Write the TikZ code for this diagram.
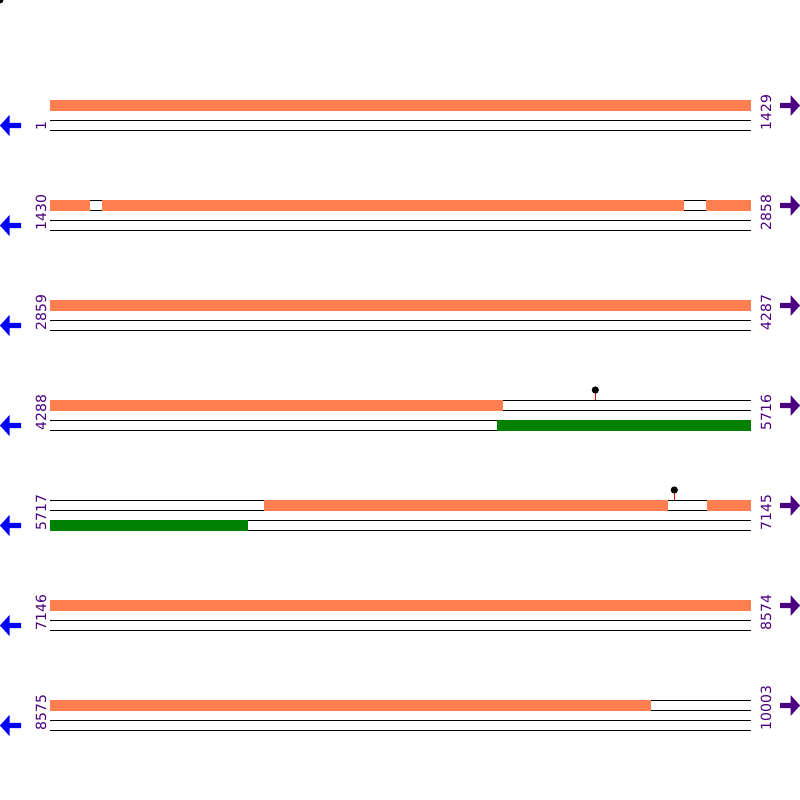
\documentclass[tikz,border=0pt]{standalone}
\usepackage{fontspec}
\newfontfamily\numfont{DejaVu Sans}
\definecolor{coral}{HTML}{FF7F50}
\definecolor{gg}{HTML}{008000}
\definecolor{ind}{HTML}{4B0082}
\begin{document}
\begin{tikzpicture}[x=1pt,y=-1pt,
  strand/.style={black,line width=1pt},
  fwdbar/.style={fill=coral,draw=none},
  revbar/.style={fill=gg,draw=none},
  num/.style={text=ind,font=\numfont\fontsize{14}{14}\selectfont,rotate=90,anchor=base west,inner sep=0pt},
  larrow/.style={fill=blue,draw=none},
  rarrow/.style={fill=ind,draw=none},
  stick/.style={red,line width=1pt},
  pin/.style={fill=black,draw=none}]
\useasboundingbox (0,0) rectangle (800,800);
\fill[black] (0,0) circle (3.5);
\foreach \y/\a/\b [count=\i] in {100/1/1429,200/1430/2858,300/2859/4287,400/4288/5716,500/5717/7145,600/7146/8574,700/8575/10003}{
  \foreach \d in {0,10,20,30}{\draw[strand] (50,\y+\d) -- (751,\y+\d);}
  \fill[larrow] (0,\y+25.5) -- (9.5,\y+15) -- (9.5,\y+22.8) -- (21,\y+22.8) -- (21,\y+28.2) -- (9.5,\y+28.2) -- (9.5,\y+36) -- cycle;
  \fill[rarrow] (800,\y+5.5) -- (790.5,\y-5) -- (790.5,\y+2.8) -- (780,\y+2.8) -- (780,\y+8.2) -- (790.5,\y+8.2) -- (790.5,\y+16) -- cycle;
  \node[num] (l\i) at (46,\y+30.5) {\a};
  \node[num] (r\i) at (771,\y+30.5) {\b};
}
% row 1
\fill[fwdbar] (50,99.5) rectangle (751,110.7);
% row 2
\fill[fwdbar] (50,199.5) rectangle (90,210.7);
\fill[fwdbar] (102,199.5) rectangle (684,210.7);
\fill[fwdbar] (706,199.5) rectangle (751,210.7);
% row 3
\fill[fwdbar] (50,299.5) rectangle (751,310.7);
% row 4
\fill[fwdbar] (50,399.5) rectangle (503,410.7);
\fill[revbar] (497,419.5) rectangle (751,430.7);
\draw[stick] (595.3,390) -- (595.3,400);
\fill[pin] (595.3,390) circle (3.6);
% row 5
\fill[fwdbar] (264,499.5) rectangle (668,510.7);
\fill[fwdbar] (707,499.5) rectangle (751,510.7);
\fill[revbar] (50,519.5) rectangle (248.3,530.7);
\draw[stick] (674.3,490) -- (674.3,500);
\fill[pin] (674.3,490) circle (3.6);
% row 6
\fill[fwdbar] (50,599.5) rectangle (751,610.7);
% row 7
\fill[fwdbar] (50,699.5) rectangle (651,710.7);
\end{tikzpicture}
\end{document}
